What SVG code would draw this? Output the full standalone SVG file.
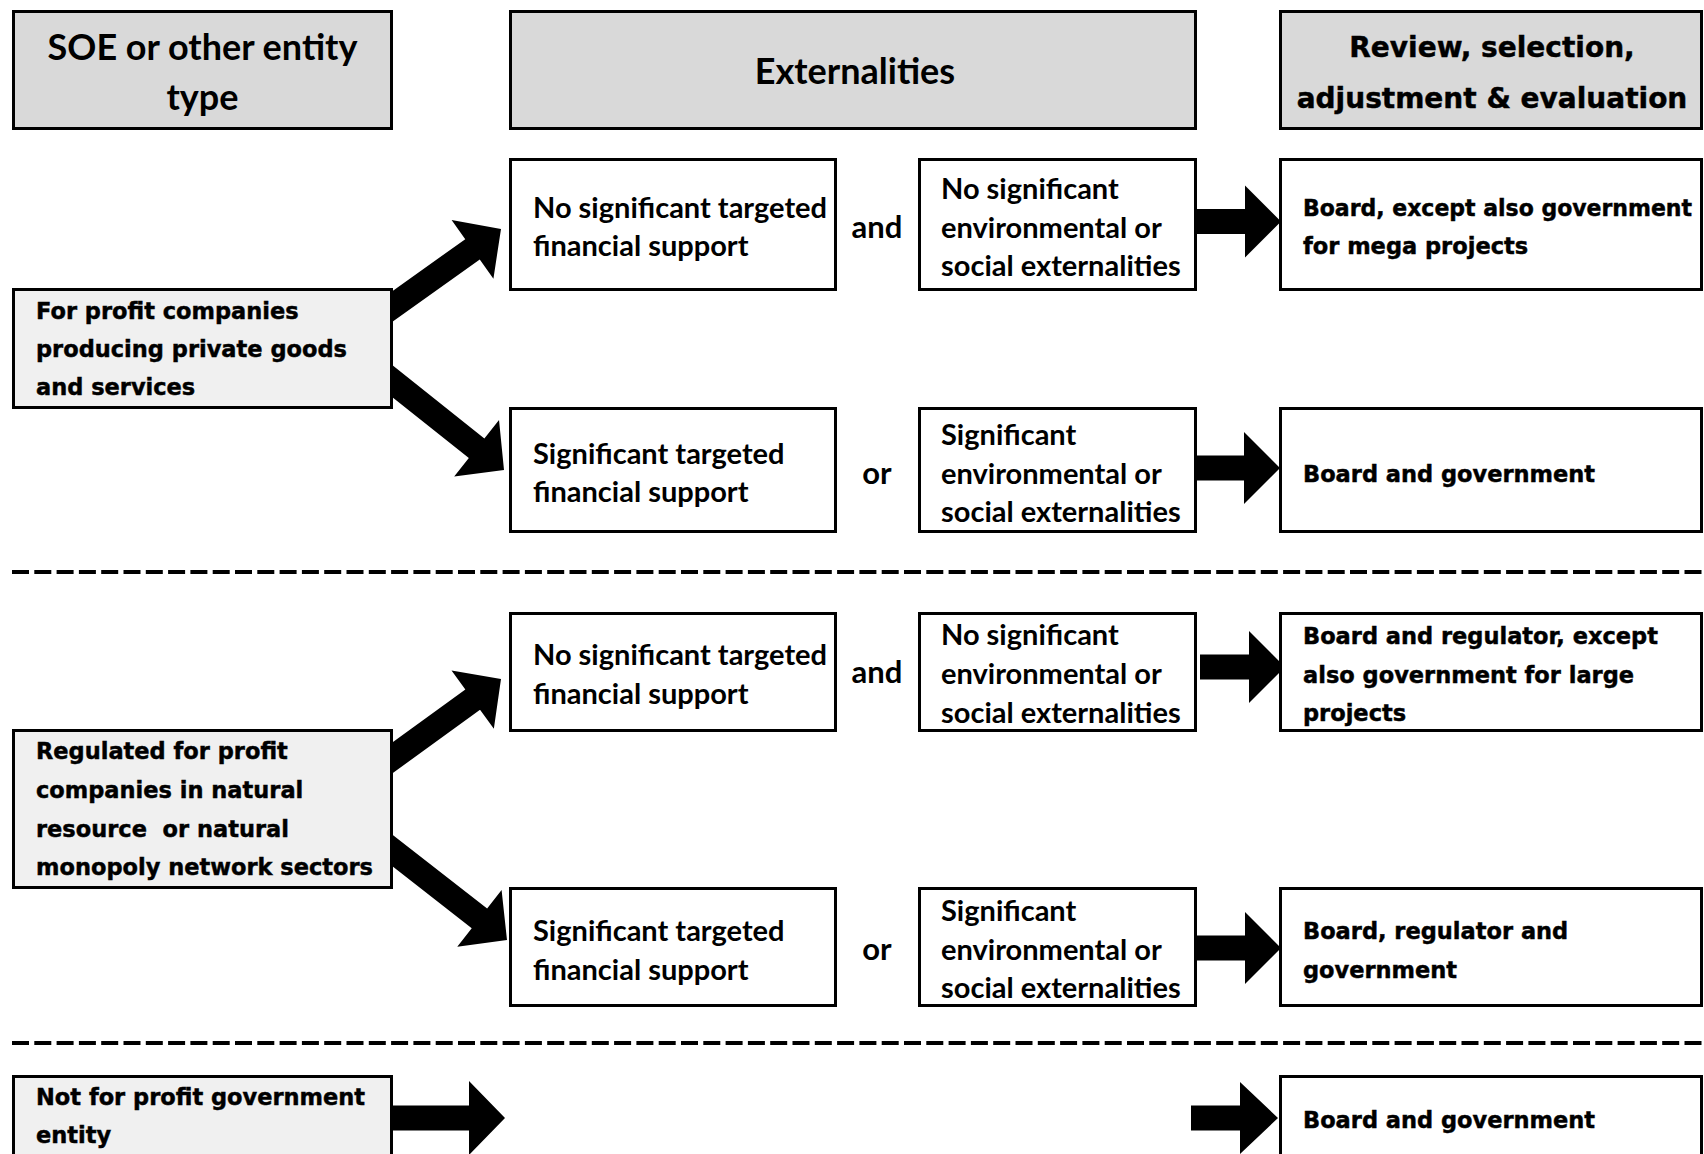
<svg xmlns="http://www.w3.org/2000/svg" width="1704" height="1154" viewBox="0 0 1704 1154">
<style>
.hdr{fill:#d9d9d9;stroke:#000;stroke-width:3}
.ent{fill:#f0f0f0;stroke:#000;stroke-width:3}
.box{fill:#fff;stroke:#000;stroke-width:3}
.cal{font-family:Lato,"Open Sans",sans-serif;font-weight:bold;font-size:29px;fill:#000}
.big{font-size:36px}
.conj{font-size:31px}
.tah{font-family:"DejaVu Sans",Verdana,sans-serif;font-weight:bold;font-size:22.5px;fill:#000;stroke:#000;stroke-width:0.45}
.th{font-size:28px}
.mid{text-anchor:middle}
.arr{fill:#000}
.dash{stroke:#000;stroke-width:4;stroke-dasharray:17 5.3;fill:none}
</style>
<rect x="0" y="0" width="1704" height="1154" fill="#fff"/>
<g id="connectors">
  <line class="dash" x1="12" y1="572" x2="1704" y2="572"/>
  <line class="dash" x1="12" y1="1043" x2="1704" y2="1043"/>
  <polygon class="arr" transform="translate(501,229) rotate(-35.5)" points="-150,-12.5 -35,-12.5 -35,-36 0,0 -35,36 -35,12.5 -150,12.5"/>
  <polygon class="arr" transform="translate(504,470) rotate(38.5)" points="-160,-12.5 -35,-12.5 -35,-36 0,0 -35,36 -35,12.5 -160,12.5"/>
  <polygon class="arr" transform="translate(501,679) rotate(-36)" points="-150,-12.5 -35,-12.5 -35,-36 0,0 -35,36 -35,12.5 -150,12.5"/>
  <polygon class="arr" transform="translate(507,940) rotate(38)" points="-160,-12.5 -35,-12.5 -35,-36 0,0 -35,36 -35,12.5 -160,12.5"/>
  <polygon class="arr" transform="translate(1281,221.5)" points="-84,-12.5 -36,-12.5 -36,-36 0,0 -36,36 -36,12.5 -84,12.5"/>
  <polygon class="arr" transform="translate(1280,468)" points="-83,-12.5 -36,-12.5 -36,-36 0,0 -36,36 -36,12.5 -83,12.5"/>
  <polygon class="arr" transform="translate(1285,667)" points="-85,-12.5 -36,-12.5 -36,-36 0,0 -36,36 -36,12.5 -85,12.5"/>
  <polygon class="arr" transform="translate(1281,948)" points="-84,-12.5 -36,-12.5 -36,-36 0,0 -36,36 -36,12.5 -84,12.5"/>
  <polygon class="arr" transform="translate(505,1118)" points="-120,-12.5 -36,-12.5 -36,-37 0,0 -36,37 -36,12.5 -120,12.5"/>
  <polygon class="arr" transform="translate(1278,1118)" points="-87,-12.5 -38,-12.5 -38,-36 0,0 -38,36 -38,12.5 -87,12.5"/>
</g>
<g id="hdr-entity">
  <rect class="hdr" x="13.5" y="11.5" width="378" height="117"/>
  <text class="cal big mid" x="202.5" y="60">SOE or other entity</text>
  <text class="cal big mid" x="202.5" y="110">type</text>
</g>
<g id="hdr-externalities">
  <rect class="hdr" x="510.5" y="11.5" width="685" height="117"/>
  <text class="cal big mid" x="855" y="84">Externalities</text>
</g>
<g id="hdr-review">
  <rect class="hdr" x="1280.5" y="11.5" width="421" height="117"/>
  <text class="tah th mid" x="1492" y="57">Review, selection,</text>
  <text class="tah th mid" x="1492" y="108">adjustment &amp; evaluation</text>
</g>
<g id="ent-forprofit">
  <rect class="ent" x="13.5" y="289.5" width="378" height="118"/>
  <text class="tah" x="36" y="319">For profit companies</text>
  <text class="tah" x="36" y="357">producing private goods</text>
  <text class="tah" x="36" y="395">and services</text>
</g>
<g id="ent-regulated">
  <rect class="ent" x="13.5" y="730.5" width="378" height="157"/>
  <text class="tah" x="36" y="759">Regulated for profit</text>
  <text class="tah" x="36" y="798">companies in natural</text>
  <text class="tah" x="36" y="837" xml:space="preserve">resource  or natural</text>
  <text class="tah" x="36" y="875">monopoly network sectors</text>
</g>
<g id="ent-notforprofit">
  <rect class="ent" x="13.5" y="1076.5" width="378" height="100"/>
  <text class="tah" x="36" y="1105">Not for profit government</text>
  <text class="tah" x="36" y="1143">entity</text>
</g>
<g id="fin-1">
  <rect class="box" x="510.5" y="159.5" width="325" height="130"/>
  <text class="cal" x="533" y="218">No significant targeted</text>
  <text class="cal" x="533" y="256">financial support</text>
</g>
<g id="and-1"><text class="cal conj mid" x="877" y="238">and</text></g>
<g id="ext-1">
  <rect class="box" x="919.5" y="159.5" width="276" height="130"/>
  <text class="cal" x="941" y="199">No significant</text>
  <text class="cal" x="941" y="238">environmental or</text>
  <text class="cal" x="941" y="276">social externalities</text>
</g>
<g id="rev-1">
  <rect class="box" x="1280.5" y="159.5" width="421" height="130"/>
  <text class="tah" x="1303" y="216" textLength="389" lengthAdjust="spacingAndGlyphs">Board, except also government</text>
  <text class="tah" x="1303" y="254">for mega projects</text>
</g>
<g id="fin-2">
  <rect class="box" x="510.5" y="408.5" width="325" height="123"/>
  <text class="cal" x="533" y="464">Significant targeted</text>
  <text class="cal" x="533" y="502">financial support</text>
</g>
<g id="or-2"><text class="cal conj mid" x="877" y="484">or</text></g>
<g id="ext-2">
  <rect class="box" x="919.5" y="408.5" width="276" height="123"/>
  <text class="cal" x="941" y="445">Significant</text>
  <text class="cal" x="941" y="484">environmental or</text>
  <text class="cal" x="941" y="522">social externalities</text>
</g>
<g id="rev-2">
  <rect class="box" x="1280.5" y="408.5" width="421" height="123"/>
  <text class="tah" x="1303" y="482">Board and government</text>
</g>
<g id="fin-3">
  <rect class="box" x="510.5" y="613.5" width="325" height="117"/>
  <text class="cal" x="533" y="665">No significant targeted</text>
  <text class="cal" x="533" y="704">financial support</text>
</g>
<g id="and-3"><text class="cal conj mid" x="877" y="683">and</text></g>
<g id="ext-3">
  <rect class="box" x="919.5" y="613.5" width="276" height="117"/>
  <text class="cal" x="941" y="645">No significant</text>
  <text class="cal" x="941" y="684">environmental or</text>
  <text class="cal" x="941" y="723">social externalities</text>
</g>
<g id="rev-3">
  <rect class="box" x="1280.5" y="613.5" width="421" height="117"/>
  <text class="tah" x="1303" y="644">Board and regulator, except</text>
  <text class="tah" x="1303" y="683">also government for large</text>
  <text class="tah" x="1303" y="721">projects</text>
</g>
<g id="fin-4">
  <rect class="box" x="510.5" y="888.5" width="325" height="117"/>
  <text class="cal" x="533" y="941">Significant targeted</text>
  <text class="cal" x="533" y="980">financial support</text>
</g>
<g id="or-4"><text class="cal conj mid" x="877" y="960">or</text></g>
<g id="ext-4">
  <rect class="box" x="919.5" y="888.5" width="276" height="117"/>
  <text class="cal" x="941" y="921">Significant</text>
  <text class="cal" x="941" y="960">environmental or</text>
  <text class="cal" x="941" y="998">social externalities</text>
</g>
<g id="rev-4">
  <rect class="box" x="1280.5" y="888.5" width="421" height="117"/>
  <text class="tah" x="1303" y="939">Board, regulator and</text>
  <text class="tah" x="1303" y="978">government</text>
</g>
<g id="rev-5">
  <rect class="box" x="1280.5" y="1076.5" width="421" height="100"/>
  <text class="tah" x="1303" y="1128">Board and government</text>
</g>
</svg>
